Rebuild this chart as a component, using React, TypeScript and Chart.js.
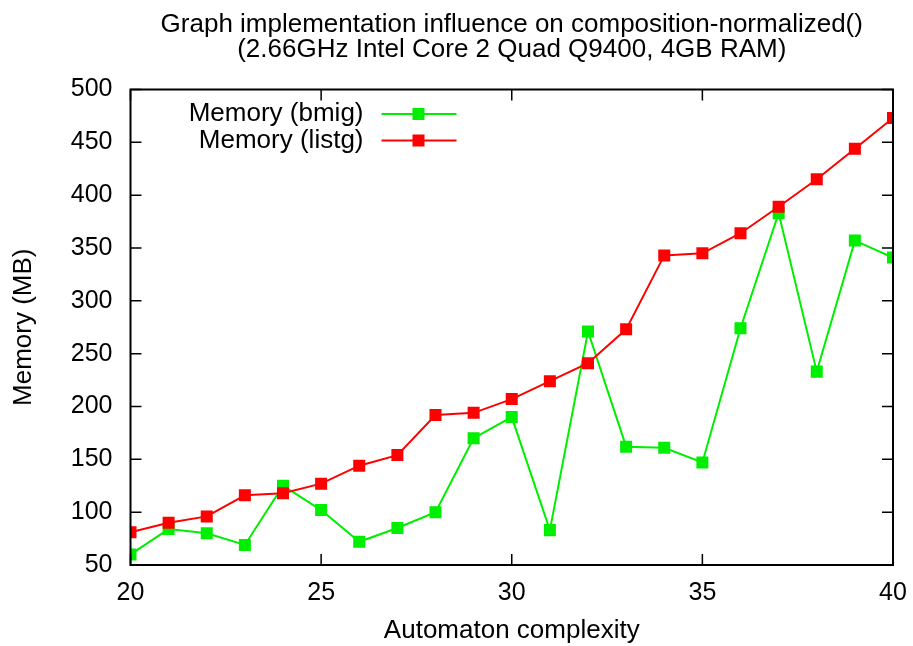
import React, { useEffect, useRef } from 'react';
import { Chart, registerables } from 'chart.js';

Chart.register(...registerables);

const complexity = [20, 21, 22, 23, 24, 25, 26, 27, 28, 29, 30, 31, 32, 33, 34, 35, 36, 37, 38, 39, 40];
const bmigMemory = [60, 84, 80, 69, 125, 102, 72, 85, 100, 170, 190, 83, 271, 162, 161, 147, 274, 383, 233, 357, 341];
const listgMemory = [81, 90, 96, 116, 118, 127, 144, 154, 192, 194, 207, 224, 241, 273, 343, 345, 364, 389, 415, 444, 473];
const xTicks = [20, 25, 30, 35, 40];
const yTicks = [50, 100, 150, 200, 250, 300, 350, 400, 450, 500];
const seriesNames = ['Memory (bmig)', 'Memory (listg)'];
const seriesColors = ['#00ee00', '#ff0000'];
const titleLines = [
  'Graph implementation influence on composition-normalized()',
  '(2.66GHz Intel Core 2 Quad Q9400, 4GB RAM)',
];
const xTitle = 'Automaton complexity';
const yTitle = 'Memory (MB)';

const FONT = '"Liberation Sans", Arial, Helvetica, sans-serif';
const FS = 25;
const TFS = 26;

const gnuplotDecor = {
  id: 'gnuplotDecor',
  afterDraw(chart: any) {
    const { ctx, chartArea: a, scales } = chart;
    ctx.save();
    // frame
    ctx.strokeStyle = '#000';
    ctx.lineWidth = 2;
    ctx.strokeRect(a.left, a.top, a.right - a.left, a.bottom - a.top);
    // inward ticks
    const tl = 11;
    ctx.lineWidth = 1.5;
    ctx.beginPath();
    yTicks.forEach((v) => {
      const y = scales.y.getPixelForValue(v);
      ctx.moveTo(a.left, y);
      ctx.lineTo(a.left + tl, y);
      ctx.moveTo(a.right, y);
      ctx.lineTo(a.right - tl, y);
    });
    xTicks.forEach((v) => {
      const x = scales.x.getPixelForValue(v);
      ctx.moveTo(x, a.bottom);
      ctx.lineTo(x, a.bottom - tl);
      ctx.moveTo(x, a.top);
      ctx.lineTo(x, a.top + tl);
    });
    ctx.stroke();

    // titles
    ctx.fillStyle = '#000';
    ctx.font = `${TFS}px ${FONT}`;
    ctx.textAlign = 'center';
    ctx.textBaseline = 'alphabetic';
    const cx = (a.left + a.right) / 2;
    titleLines.forEach((t, i) => ctx.fillText(t, cx, 32 + i * 25));
    ctx.fillText(xTitle, cx, 638);
    ctx.save();
    ctx.translate(31, (a.top + a.bottom) / 2);
    ctx.rotate(-Math.PI / 2);
    ctx.fillText(yTitle, 0, 0);
    ctx.restore();

    // legend
    ctx.textAlign = 'right';
    ctx.textBaseline = 'middle';
    seriesNames.forEach((name, i) => {
      const y = a.top + 24.5 + i * 26.5;
      ctx.fillStyle = '#000';
      ctx.fillText(name, a.left + 233, y);
      ctx.strokeStyle = seriesColors[i];
      ctx.lineWidth = 2;
      ctx.beginPath();
      ctx.moveTo(a.left + 251, y);
      ctx.lineTo(a.left + 326, y);
      ctx.stroke();
      ctx.fillStyle = seriesColors[i];
      ctx.fillRect(a.left + 288 - 6, y - 6, 12, 12);
    });
    ctx.restore();
  },
};

export default function App() {
  const ref = useRef<HTMLCanvasElement>(null);
  useEffect(() => {
    if (!ref.current) return;
    const mk = (vals: number[]) => complexity.map((x, i) => ({ x, y: vals[i] }));
    const ds = (i: number, vals: number[], order: number) => ({
      label: seriesNames[i],
      data: mk(vals),
      borderColor: seriesColors[i],
      backgroundColor: seriesColors[i],
      pointBackgroundColor: seriesColors[i],
      pointBorderColor: seriesColors[i],
      pointStyle: 'rect',
      pointRadius: 8.5,
      pointBorderWidth: 0,
      borderWidth: 2,
      tension: 0,
      order,
    });
    const chart = new Chart(ref.current, {
      type: 'line',
      data: {
        datasets: [ds(0, bmigMemory, 1), ds(1, listgMemory, 0)],
      },
      options: {
        responsive: false,
        animation: false,
        layout: { padding: { top: 89.5, right: 20, left: 0, bottom: 0 } },
        plugins: { legend: { display: false }, tooltip: { enabled: false }, title: { display: false } },
        scales: {
          x: {
            type: 'linear',
            min: 20,
            max: 40,
            grid: { display: false, drawTicks: false },
            border: { display: false },
            ticks: { stepSize: 5, color: '#000', font: { family: FONT, size: FS }, padding: 13, maxRotation: 0 },
            afterFit: (s: any) => { s.height = 81; s.paddingLeft = 0; s.paddingRight = 0; },
          },
          y: {
            min: 50,
            max: 500,
            grid: { display: false, drawTicks: false },
            border: { display: false },
            ticks: { stepSize: 50, color: '#000', font: { family: FONT, size: FS }, padding: 18 },
            afterFit: (s: any) => { s.width = 130.5; s.paddingTop = 0; s.paddingBottom = 0; },
          },
        },
      },
      plugins: [gnuplotDecor],
    });
    return () => chart.destroy();
  }, []);
  return (
    <div style={{ position: 'absolute', left: 0, top: 0, width: 913, height: 646, background: '#fff' }}>
      <canvas ref={ref} width={913} height={646} />
    </div>
  );
}
